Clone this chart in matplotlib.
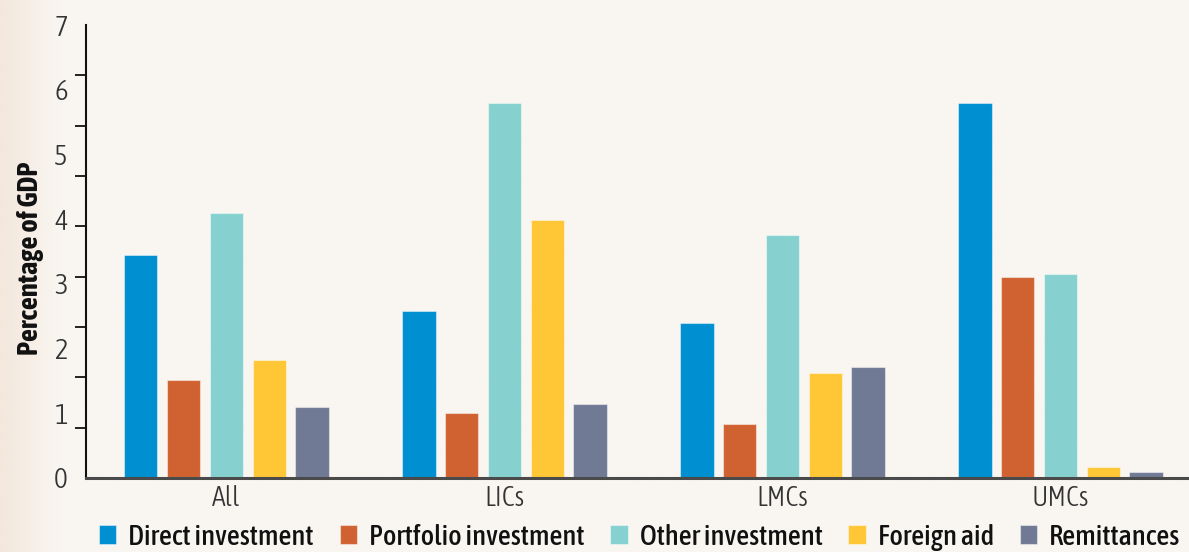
import matplotlib

matplotlib.use("Agg")

import matplotlib.pyplot as plt
import numpy as np
from matplotlib.colors import LinearSegmentedColormap

# Capital flows by income group, percent of GDP
groups = ["All", "LICs", "LMCs", "UMCs"]
series = ["Direct investment", "Portfolio investment", "Other investment",
          "Foreign aid", "Remittances"]
direct = [3.44, 2.58, 2.40, 5.80]
portfolio = [1.52, 1.00, 0.83, 3.10]
other = [4.10, 5.80, 3.75, 3.15]
aid = [1.83, 3.98, 1.62, 0.17]
remittances = [1.09, 1.14, 1.71, 0.09]
colors = ["#008FD0", "#D06232", "#86D1CF", "#FFC636", "#717A94"]

BG = "#F9F6F1"
plt.rcParams["font.family"] = ["Asap Condensed", "Barlow Condensed", "Liberation Sans"]

fig = plt.figure(figsize=(11.89, 5.52), dpi=100, facecolor=BG)

# warm shading fading in from the left edge
bg = fig.add_axes([0, 0, 1, 1], zorder=-10)
grad = np.linspace(0, 1, 512).reshape(1, -1)
cmap = LinearSegmentedColormap.from_list(
    "edge", [(0, "#F4E7DD"), (0.05, BG), (1, BG)], N=512)
bg.imshow(grad, aspect="auto", cmap=cmap, extent=[0, 1, 0, 1])
bg.set_xlim(0, 1)
bg.set_ylim(0, 1)
bg.axis("off")

ax = fig.add_axes([86 / 1189, 1 - 478 / 552, 1 - 86 / 1189, (478 - 25) / 552])
ax.set_facecolor("none")

x = np.arange(len(groups))
pitch = 0.154
width = 0.12
for i, (vals, col) in enumerate(zip([direct, portfolio, other, aid, remittances], colors)):
    ax.bar(x + (i - 2) * pitch, vals, width=width, color=col,
           edgecolor=(1, 1, 1, 0.45), linewidth=0.8, label=series[i], zorder=2)

ax.set_xlim(-0.505, 3.462)
ax.set_ylim(0, 7)

for side in ("top", "right"):
    ax.spines[side].set_visible(False)
ax.spines["left"].set_linewidth(1.5)
ax.spines["left"].set_color("#111111")
ax.spines["bottom"].set_linewidth(2.2)
ax.spines["bottom"].set_color("#4A4A4A")
ax.spines["bottom"].set_zorder(3)

ax.set_yticks(np.arange(0, 8))
ax.set_yticks(np.linspace(0, 7, 10), minor=True)
ax.tick_params(axis="y", which="major", length=0, pad=13, labelsize=21,
               labelcolor="#333333")
ax.tick_params(axis="y", which="minor", length=8, width=1.3, color="#111111")
ax.set_xticks(x)
ax.set_xticklabels(groups)
ax.tick_params(axis="x", length=0, pad=5, labelsize=20, labelcolor="#333333")
for lbl in ax.get_yticklabels() + ax.get_xticklabels():
    lbl.set_fontweight(300)

ax.set_ylabel("Percentage of GDP", fontsize=20.5, fontweight="bold", color="#111111")
ax.yaxis.set_label_coords(-42 / 1103, 0.485)

handles, labels = ax.get_legend_handles_labels()
leg = fig.legend(handles, labels, loc="center", bbox_to_anchor=(0.538, 0.027), ncol=5,
                 frameon=False, prop={"size": 20.5, "weight": 500},
                 handlelength=0.62, handleheight=0.62,
                 handletextpad=0.42, columnspacing=0.9, borderaxespad=0)
for txt in leg.get_texts():
    txt.set_color("#111111")

fig.savefig("out.png", dpi=100, facecolor=BG)
